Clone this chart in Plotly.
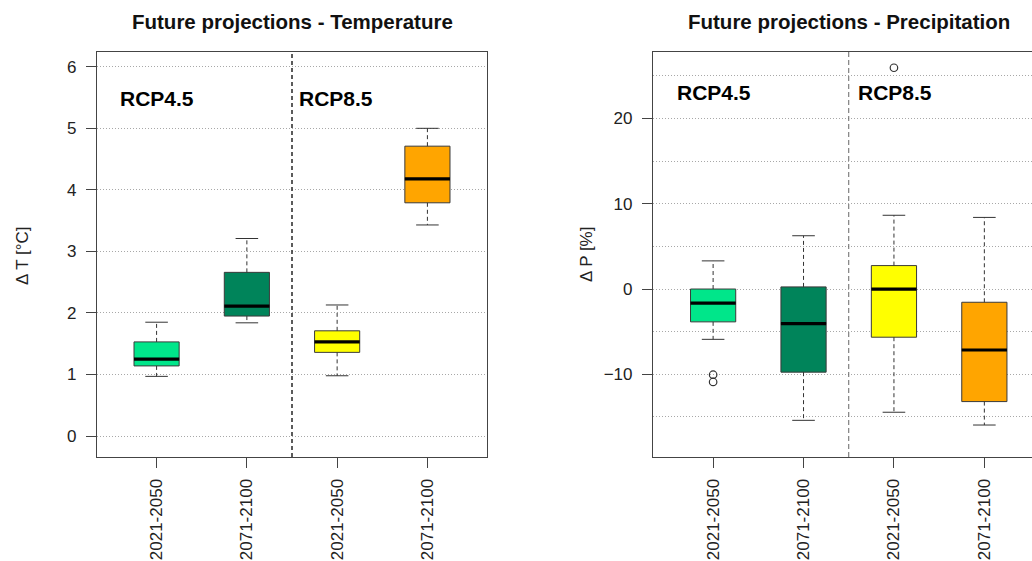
import plotly.graph_objects as go

# Projection periods (x categories) and box colours per scenario/period
periods = ["2021-2050", "2071-2100", "2021-2050", "2071-2100"]
positions = [1, 2, 3, 4]
box_colors = ["#00E68A", "#00845A", "#FFFF00", "#FFA500"]
scenario_labels = ["RCP4.5", "RCP8.5"]

# Temperature change [°C]: box-plot statistics
temp_lower = [0.97, 1.84, 0.98, 3.43]
temp_q1 = [1.14, 1.95, 1.36, 3.79]
temp_median = [1.25, 2.11, 1.53, 4.18]
temp_q3 = [1.53, 2.66, 1.71, 4.71]
temp_upper = [1.85, 3.21, 2.13, 5.00]

# Precipitation change [%]: box-plot statistics
precip_lower = [-5.9, -15.4, -14.45, -15.95]
precip_q1 = [-3.85, -9.75, -5.65, -13.2]
precip_median = [-1.65, -4.05, 0.0, -7.15]
precip_q3 = [0.0, 0.25, 2.75, -1.55]
precip_upper = [3.3, 6.25, 8.65, 8.4]
precip_outlier_pos = [1, 1, 3]
precip_outlier_val = [-10.05, -10.9, 25.95]

FONT = "Liberation Sans, Arial, sans-serif"
BOX_W = 0.5
CAP_W = 0.25
GRID = dict(showgrid=True, gridcolor="#a8a8a8", griddash="1px,2px", gridwidth=1)

fig = go.Figure()


def add_boxes(xa, ya, lower, q1, med, q3, upper):
    for p, c, lo, a, m, b, up in zip(positions, box_colors, lower, q1, med, q3, upper):
        # box body
        fig.add_trace(go.Box(
            x=[p], q1=[a], median=[m], q3=[b], lowerfence=[a], upperfence=[b],
            width=BOX_W, fillcolor=c, line=dict(color="#3a3a3a", width=1),
            whiskerwidth=0, boxpoints=False, xaxis=xa, yaxis=ya,
            showlegend=False, hoverinfo="skip"))
        # dashed whiskers
        fig.add_trace(go.Scatter(
            x=[p, p, None, p, p], y=[b, up, None, a, lo], mode="lines",
            line=dict(color="#333333", width=1, dash="4px,3px"),
            xaxis=xa, yaxis=ya, showlegend=False, hoverinfo="skip"))
        # whisker caps
        fig.add_trace(go.Scatter(
            x=[p - CAP_W / 2, p + CAP_W / 2, None, p - CAP_W / 2, p + CAP_W / 2],
            y=[up, up, None, lo, lo], mode="lines",
            line=dict(color="#333333", width=1),
            xaxis=xa, yaxis=ya, showlegend=False, hoverinfo="skip"))
        # thick median
        fig.add_trace(go.Scatter(
            x=[p - BOX_W / 2, p + BOX_W / 2], y=[m, m], mode="lines",
            line=dict(color="#000000", width=3.2),
            xaxis=xa, yaxis=ya, showlegend=False, hoverinfo="skip"))


add_boxes("x", "y", temp_lower, temp_q1, temp_median, temp_q3, temp_upper)
add_boxes("x2", "y2", precip_lower, precip_q1, precip_median, precip_q3, precip_upper)

fig.add_trace(go.Scatter(
    x=precip_outlier_pos, y=precip_outlier_val, mode="markers",
    marker=dict(symbol="circle-open", size=7.5, color="#333333", line=dict(width=1.2)),
    xaxis="x2", yaxis="y2", showlegend=False, hoverinfo="skip"))

y_dom = [1 - 457 / 561, 1 - 52 / 561]
axis_common = dict(
    showline=True, linecolor="#444444", linewidth=1.2,
    ticks="outside", ticklen=10, tickcolor="#444444", tickwidth=1.2,
    tickfont=dict(family=FONT, size=17, color="#222222"),
    zeroline=False,
)

fig.update_layout(
    width=1032, height=561,
    margin=dict(l=0, r=0, t=0, b=0),
    paper_bgcolor="white", plot_bgcolor="white",
    boxmode="overlay",
    xaxis=dict(axis_common, domain=[97 / 1032, 487 / 1032], range=[0.34, 4.66],
               tickvals=positions, ticktext=periods, tickangle=-90,
               mirror=True, showgrid=False, anchor="y", ticklabelstandoff=4),
    yaxis=dict(**axis_common, **GRID, domain=y_dom, range=[-0.34, 6.24], dtick=1, tick0=0,
               mirror=True, anchor="x", ticklabelstandoff=6),
    xaxis2=dict(axis_common, domain=[653 / 1032, 1.0], range=[0.335, 4.527],
                tickvals=positions, ticktext=periods, tickangle=-90,
                mirror=True, showgrid=False, anchor="y2", ticklabelstandoff=4),
    yaxis2=dict(**axis_common, **GRID, domain=y_dom, range=[-19.7, 27.8],
                tickvals=[-10, 0, 10, 20], mirror=False,
                minor=dict(**GRID, dtick=5, tick0=0, ticks=""),
                anchor="x2", ticklabelstandoff=6),
)

# scenario separators
fig.add_shape(type="line", xref="x", yref="y domain", x0=2.5, x1=2.5, y0=0, y1=1,
              line=dict(color="#333333", width=1.6, dash="4px,3px"))
fig.add_shape(type="line", xref="x2", yref="y2 domain", x0=2.5, x1=2.5, y0=0, y1=1,
              line=dict(color="#666666", width=1, dash="5px,3px"))

# scenario labels
for xa, ya, xs, yv in [("x", "y", [0.57, 2.55], 5.48), ("x2", "y2", [0.575, 2.58], 23.0)]:
    for lbl, xv in zip(scenario_labels, xs):
        fig.add_annotation(x=xv, y=yv, xref=xa, yref=ya, text=f"<b>{lbl}</b>",
                           showarrow=False, xanchor="left", yanchor="middle",
                           font=dict(family=FONT, size=21, color="#000000"))

# panel titles
for xa, title in [("x", "Future projections - Temperature"),
                  ("x2", "Future projections - Precipitation")]:
    fig.add_annotation(x=2.5, y=1 - 22 / 561, xref=xa, yref="paper",
                       text=f"<b>{title}</b>", showarrow=False,
                       xanchor="center", yanchor="middle",
                       font=dict(family=FONT, size=20.5, color="#111111"))

# y-axis titles
fig.add_annotation(x=23 / 1032, y=1 - 256 / 561, xref="paper", yref="paper",
                   text="Δ T [°C]", textangle=-90, showarrow=False,
                   xanchor="center", yanchor="middle",
                   font=dict(family=FONT, size=17, color="#222222"))
fig.add_annotation(x=586 / 1032, y=1 - 255 / 561, xref="paper", yref="paper",
                   text="Δ P [%]", textangle=-90, showarrow=False,
                   xanchor="center", yanchor="middle",
                   font=dict(family=FONT, size=17, color="#222222"))

fig.write_html("out.html")
